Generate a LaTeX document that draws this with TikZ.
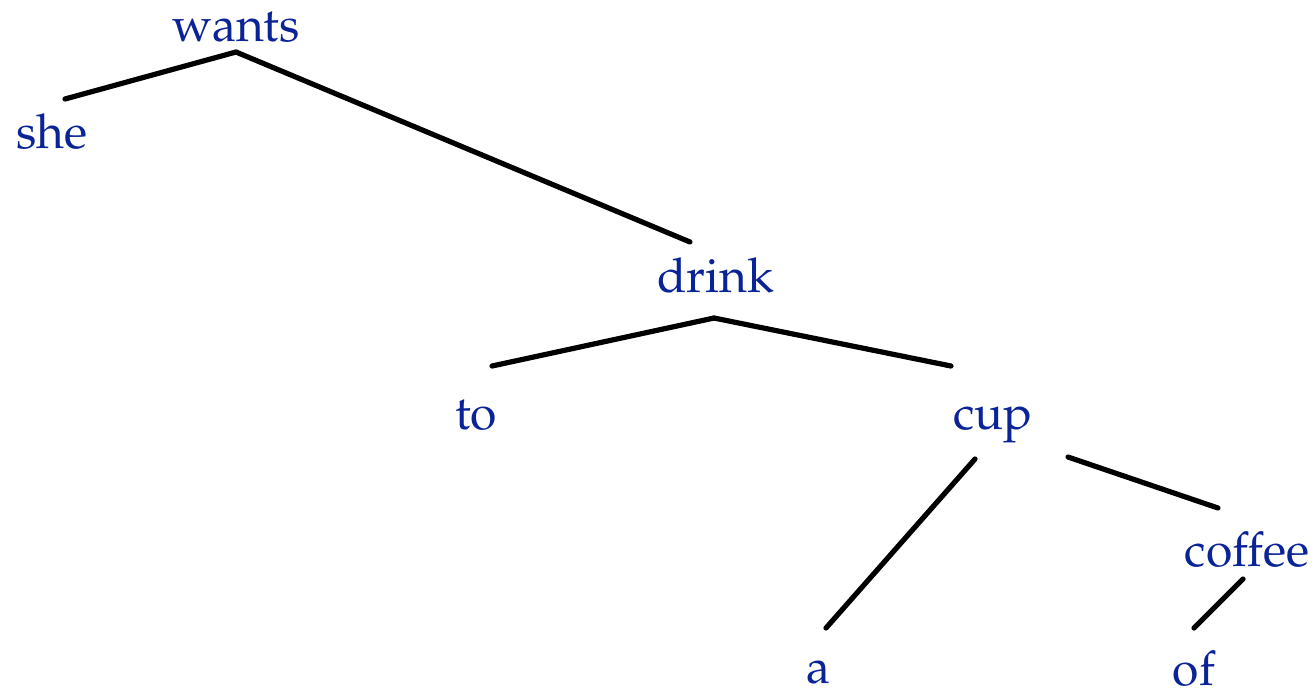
\documentclass[tikz,border=0pt]{standalone}
\usepackage[T1]{fontenc}
\usepackage{mathpazo}
\usepackage{tikz}
\definecolor{wordblue}{RGB}{10,35,150}

\begin{document}
\begin{tikzpicture}[x=0.5pt, y=-0.5pt, line width=2.6pt, line cap=round,
	word/.style={anchor=base, inner sep=0pt, text=wordblue, font=\fontsize{24}{29}\selectfont}]
	
	\useasboundingbox (0,0) rectangle (1316,693);
	
	% ---------------------------------------------------------
	% Words (placed at their baselines)
	% ---------------------------------------------------------
	\node[word] (wants)  at (236, 41)  {wants};
	\node[word] (she)    at (52, 148)  {she};
	\node[word] (drink)  at (716, 292) {drink};
	\node[word] (to)     at (476, 429) {to};
	\node[word] (cup)    at (993, 429) {cup};
	\node[word] (coffee) at (1247, 566) {coffee};
	\node[word] (a)      at (818, 683) {a};
	\node[word] (of)     at (1194, 685) {of};
	
	% ---------------------------------------------------------
	% Dependencies
	% ---------------------------------------------------------
	\draw ([shift={(0,11)}]wants.base) -- ([shift={(13,-49)}]she.base);
	\draw ([shift={(0,11)}]wants.base) -- ([shift={(-26,-50)}]drink.base);
	
	\draw ([shift={(-2,26)}]drink.base) -- ([shift={(16,-63)}]to.base);
	\draw ([shift={(-2,26)}]drink.base) -- ([shift={(-42,-63)}]cup.base);
	
	\draw ([shift={(-18,30)}]cup.base) -- ([shift={(8,-55)}]a.base);
	\draw ([shift={(75,28)}]cup.base)  -- ([shift={(-29,-58)}]coffee.base);
	
	\draw ([shift={(-4,13)}]coffee.base) -- ([shift={(0,-57)}]of.base);
	
\end{tikzpicture}
\end{document}
